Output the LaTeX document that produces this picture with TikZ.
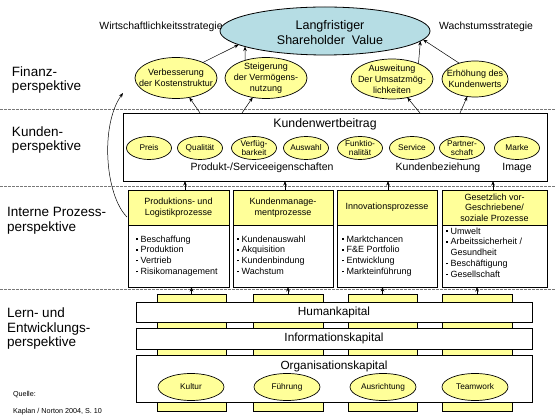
\documentclass[tikz,border=0pt]{standalone}
\usepackage{fontspec}
\setmainfont{Liberation Sans}
\usetikzlibrary{shapes.geometric,arrows.meta}
\definecolor{yel}{RGB}{255,255,153}
\definecolor{slvc}{RGB}{182,221,228}
\definecolor{dashgray}{RGB}{120,120,120}
\newcommand{\fs}[2]{\fontsize{#1}{#2}\selectfont}
\newcommand{\bul}{\raisebox{0.24em}{\rule{1.5pt}{1.5pt}}\hspace{3.2pt}}
\begin{document}
\begin{tikzpicture}[x=1pt,y=-1pt,
  every node/.style={inner sep=0pt,outer sep=0pt},
  persp/.style={anchor=west,align=left,font=\fs{13.5}{14.5}},
  sepline/.style={draw=dashgray,line width=0.6pt,dash pattern=on 2.5pt off 1.5pt},
  arr/.style={-{Stealth[length=4.5pt,width=3.5pt]},line width=0.5pt},
  fel/.style={ellipse,draw,fill=yel,line width=0.7pt},
  ftxt/.style={align=center,font=\fs{9}{11}},
  stxt/.style={align=center,font=\fs{8.3}{9.6}},
  wbox/.style={draw,fill=white,line width=0.8pt},
  hdr/.style={draw,fill=yel,line width=0.8pt,anchor=north west,align=center,font=\fs{9}{10.5}},
  bodybox/.style={draw,fill=white,line width=0.8pt,anchor=north west},
  lst/.style={anchor=north west,align=left,font=\fs{9}{10.8}},
  colbox/.style={draw,fill=yel,line width=0.8pt,anchor=north west,minimum height=117}
]
\useasboundingbox (0,0) rectangle (556,419);

% separators
\draw[sepline] (0,109) -- (556,109);
\draw[sepline] (0,186) -- (556,186);
\draw[sepline] (0,289) -- (556,289);

% left labels
\node[persp] (pfin) at (12,80) {Finanz-\\perspektive};
\node[persp] (pkun) at (12,140) {Kunden-\\perspektive};
\node[persp] (pint) at (7,221) {Interne Prozess-\\perspektive};
\node[persp] (plern) at (7,329) {Lern- und\\Entwicklungs-\\perspektive};
\node[anchor=west,font=\fs{7.2}{8}] (quelle) at (13,395) {Quelle:};
\node[anchor=west,font=\fs{7.2}{8}] (kaplan) at (13,412) {Kaplan / Norton 2004, S. 10};

% top
\node[ellipse,draw,fill=slvc,line width=0.8pt,minimum width=210,minimum height=48] (slv) at (325,31) {};
\node[align=center,font=\fs{12.5}{15}] (slvt) at (330,33) {Langfristiger\\Shareholder\ \ Value};
\node[font=\fs{10.4}{12}] (wstrat) at (161,27) {Wirtschaftlichkeitsstrategie};
\node[font=\fs{10.4}{12}] (gstrat) at (486,27) {Wachstumsstrategie};

% finance ellipses
\node[fel,minimum width=82,minimum height=41] (f1) at (176,78) {};
\node[ftxt] (f1t) at (f1) {Verbesserung\\der Kostenstruktur};
\node[fel,minimum width=82,minimum height=41] (f2) at (266,78) {};
\node[ftxt] (f2t) at (f2) {Steigerung\\der Vermögens-\\nutzung};
\node[fel,minimum width=82,minimum height=40] (f3) at (392,79) {};
\node[ftxt] (f3t) at (f3) {Ausweitung\\Der Umsatzmög-\\lichkeiten};
\node[fel,minimum width=66,minimum height=36] (f4) at (475,79) {};
\node[ftxt] (f4t) at (f4) {Erhöhung des\\Kundenwerts};

\draw[arr] (f1.30) -- (slv.189);
\draw[arr] (f2.140) -- (slv.191);
\draw[arr] (f3.30) -- (slv.354);
\draw[arr] (f4.135) -- (slv.355);

% Kundenwertbeitrag
\node[wbox,anchor=north west,minimum width=424,minimum height=68] (kwb) at (123,113) {};
\node[font=\fs{12.3}{14}] (kwbt) at (325,124) {Kundenwertbeitrag};
\foreach \n/\x/\t in {k1/149/Preis,k2/200/Qualität,k3/254/{Verfüg-\\barkeit},k4/306/Auswahl,k5/360/{Funktio-\\nalität},k6/412/Service,k7/462/{Partner-\\schaft},k8/517/Marke}{
  \node[fel,minimum width=45,minimum height=23] (\n) at (\x,148) {};
  \node[stxt] (\n t) at (\n) {\t};
}
\node[font=\fs{10.5}{12}] (kpse) at (262,168) {Produkt-/Serviceeigenschaften};
\node[font=\fs{10.5}{12}] (kbez) at (438,168) {Kundenbeziehung};
\node[font=\fs{10.5}{12}] (kimg) at (517,168) {Image};

\draw[arr] ([xshift=-135]kwb.north) -- (f1);
\draw[arr] ([xshift=-93]kwb.north) -- (f2);
\draw[arr] ([xshift=85]kwb.north) -- (f3);
\draw[arr] ([xshift=125]kwb.north) -- (f4);

% process boxes
\node[hdr,minimum width=101,minimum height=35] (h1) at (128,190) {Produktions- und\\Logistikprozesse};
\node[bodybox,minimum width=101,minimum height=62] (b1) at (128,225) {};
\node[hdr,minimum width=100,minimum height=35] (h2) at (233,190) {Kundenmanage-\\mentprozesse};
\node[bodybox,minimum width=100,minimum height=62] (b2) at (233,225) {};
\node[hdr,minimum width=100,minimum height=35] (h3) at (337,190) {Innovationsprozesse};
\node[bodybox,minimum width=100,minimum height=62] (b3) at (337,225) {};
\node[hdr,minimum width=105,minimum height=35] (h4) at (442,190) {Gesetzlich vor-\\Geschriebene/\\soziale Prozesse};
\node[bodybox,minimum width=105,minimum height=62] (b4) at (442,225) {};

\node[lst] (l1) at (136,235.5) {\bul Beschaffung\\\bul Produktion\\\bul Vertrieb\\\bul Risikomanagement};
\node[lst] (l2) at (237,235.5) {\bul Kundenauswahl\\\bul Akquisition\\\bul Kundenbindung\\\bul Wachstum};
\node[lst] (l3) at (342,235.5) {\bul Marktchancen\\\bul F\&E Portfolio\\\bul Entwicklung\\\bul Markteinführung};
\node[lst] (l4) at (446,227.5) {\bul Umwelt\\\bul Arbeitssicherheit /\\\phantom{\bul}Gesundheit\\\bul Beschäftigung\\\bul Gesellschaft};

\draw[arr] ([xshift=6.5]h1.north) -- ([xshift=6.5]h1.north |- kwb.south);
\draw[arr] ([xshift=2]h2.north) -- ([xshift=2]h2.north |- kwb.south);
\draw[arr] ([xshift=1]h3.north) -- ([xshift=1]h3.north |- kwb.south);
\draw[arr] ([xshift=-1.5]h4.north) -- ([xshift=-1.5]h4.north |- kwb.south);

% learning and growth
\node[colbox,minimum width=69] (c1) at (157,294) {};
\node[colbox,minimum width=70] (c2) at (253,294) {};
\node[colbox,minimum width=69] (c3) at (348,294) {};
\node[colbox,minimum width=70] (c4) at (442,294) {};

\node[wbox,minimum width=396,minimum height=20,font=\fs{11.8}{13}] (hk) at (334,312) {Humankapital};
\node[wbox,minimum width=396,minimum height=21,font=\fs{11.8}{13}] (ik) at (334,338.5) {Informationskapital};
\node[wbox,minimum width=396,minimum height=47] (ok) at (334,378.5) {};
\node[font=\fs{11.8}{13}] (okt) at (334,366) {Organisationskapital};
\foreach \n/\x/\t in {o1/191/Kultur,o2/287/Führung,o3/383/Ausrichtung,o4/475/Teamwork}{
  \node[fel,minimum width=66,minimum height=27] (\n) at (\x,387) {};
  \node[stxt] (\n t) at (\n) {\t};
}

\draw[arr] (c1.north) -- (c1.north |- b1.south);
\draw[arr] (c2.north) -- (c2.north |- b2.south);
\draw[arr] (c3.north) -- (c3.north |- b3.south);
\draw[arr] (c4.north) -- (c4.north |- b4.south);

% left curved arrow
\coordinate (cs) at (127,217);
\coordinate (ce) at (123,93);
\draw[arr] (cs) .. controls (105,195) and (100,125) .. (ce);
\end{tikzpicture}
\end{document}
